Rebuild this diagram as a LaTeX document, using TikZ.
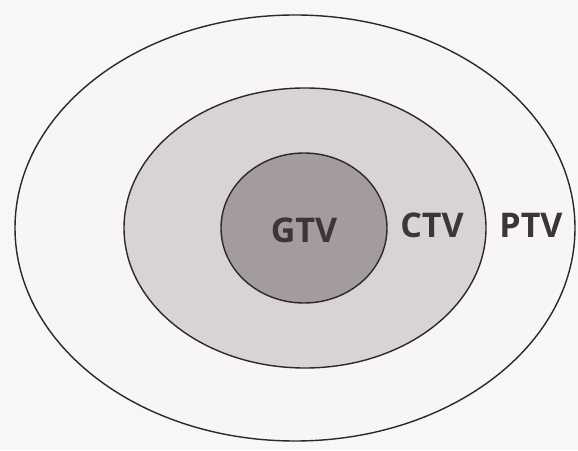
\documentclass[tikz,border=0pt]{standalone}
\usepackage{fontspec}
\setmainfont{Open Sans}
\definecolor{paper}{HTML}{F8F7F5}
\definecolor{ptvfill}{HTML}{F7F6F4}
\definecolor{ctvfill}{HTML}{D8D4D4}
\definecolor{gtvfill}{HTML}{A39B9D}
\definecolor{edge}{HTML}{2A2828}
\definecolor{txt}{HTML}{3C3638}
\begin{document}
\begin{tikzpicture}[x=1pt,y=1pt,
  zone/.style={draw=edge,line width=1.4pt},
  lab/.style={text=txt,font=\fontsize{34}{34}\selectfont\bfseries,inner sep=0pt}]
\useasboundingbox (0,0) rectangle (578,450);
\fill[paper] (0,0) rectangle (578,450);
\draw[zone,fill=ptvfill] (295,222) ellipse [x radius=280,y radius=213];
\draw[zone,fill=ctvfill] (305,222) ellipse [x radius=181,y radius=140];
\draw[zone,fill=gtvfill] (304,222) ellipse [x radius=83,y radius=75];
\node[lab] (gtv) at (304,220) {GTV};
\node[lab] (ctv) at (432,225) {CTV};
\node[lab] (ptv) at (531,225) {PTV};
\end{tikzpicture}
\end{document}
